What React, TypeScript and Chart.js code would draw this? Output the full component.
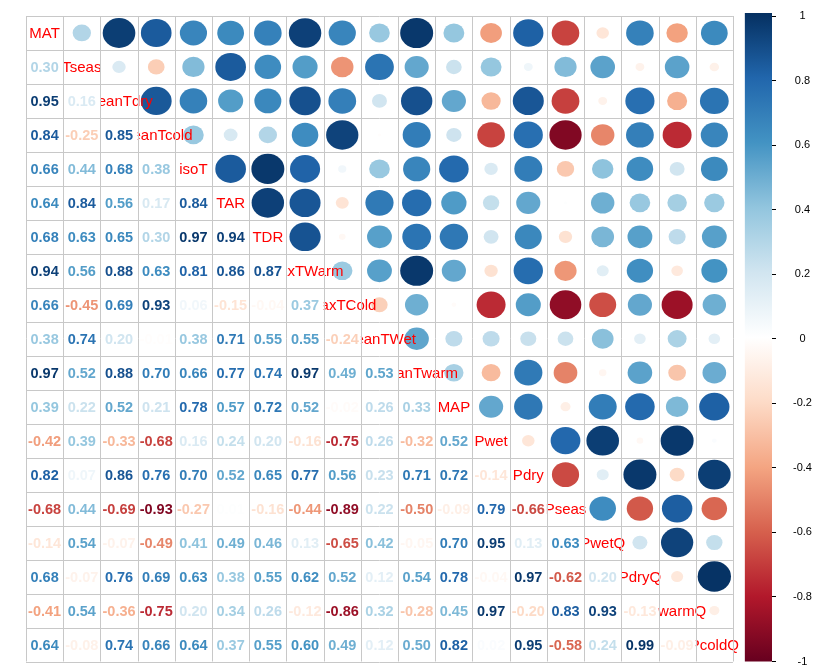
import { useEffect, useRef } from 'react';
import { Chart, registerables } from 'chart.js';

Chart.register(...registerables);

// Variable names (diagonal labels)
const variables = [
  'MAT', 'Tseas', 'MeanTdry', 'MeanTcold', 'isoT', 'TAR', 'TDR', 'MaxTWarm', 'MaxTCold',
  'MeanTWet', 'MeanTwarm', 'MAP', 'Pwet', 'Pdry', 'Pseas', 'PwetQ', 'PdryQ', 'PwarmQ', 'PcoldQ',
];

// Lower-triangle correlations, one row per variable (columns 0..row-1)
const corrMAT: number[] = [];
const corrTseas = [0.30];
const corrMeanTdry = [0.95, 0.16];
const corrMeanTcold = [0.84, -0.25, 0.85];
const corrIsoT = [0.66, 0.44, 0.68, 0.38];
const corrTAR = [0.64, 0.84, 0.56, 0.17, 0.84];
const corrTDR = [0.68, 0.63, 0.65, 0.30, 0.97, 0.94];
const corrMaxTWarm = [0.94, 0.56, 0.88, 0.63, 0.81, 0.86, 0.87];
const corrMaxTCold = [0.66, -0.45, 0.69, 0.93, 0.06, -0.15, -0.04, 0.37];
const corrMeanTWet = [0.38, 0.74, 0.20, -0.01, 0.38, 0.71, 0.55, 0.55, -0.24];
const corrMeanTwarm = [0.97, 0.52, 0.88, 0.70, 0.66, 0.77, 0.74, 0.97, 0.49, 0.53];
const corrMAP = [0.39, 0.22, 0.52, 0.21, 0.78, 0.57, 0.72, 0.52, -0.02, 0.26, 0.33];
const corrPwet = [-0.42, 0.39, -0.33, -0.68, 0.16, 0.24, 0.20, -0.16, -0.75, 0.26, -0.32, 0.52];
const corrPdry = [0.82, 0.07, 0.86, 0.76, 0.70, 0.52, 0.65, 0.77, 0.56, 0.23, 0.71, 0.72, -0.14];
const corrPseas = [-0.68, 0.44, -0.69, -0.93, -0.27, 0.01, -0.16, -0.44, -0.89, 0.22, -0.50, -0.09, 0.79, -0.66];
const corrPwetQ = [-0.14, 0.54, -0.07, -0.49, 0.41, 0.49, 0.46, 0.13, -0.65, 0.42, -0.05, 0.70, 0.95, 0.13, 0.63];
const corrPdryQ = [0.68, -0.07, 0.76, 0.69, 0.63, 0.38, 0.55, 0.62, 0.52, 0.12, 0.54, 0.78, -0.04, 0.97, -0.62, 0.20];
const corrPwarmQ = [-0.41, 0.54, -0.36, -0.75, 0.20, 0.34, 0.26, -0.12, -0.86, 0.32, -0.28, 0.45, 0.97, -0.20, 0.83, 0.93, -0.13];
const corrPcoldQ = [0.64, -0.08, 0.74, 0.66, 0.64, 0.37, 0.55, 0.60, 0.49, 0.12, 0.50, 0.82, 0.02, 0.95, -0.58, 0.24, 0.99, -0.09];

// Colour-bar tick values
const colorbarTicks = [1, 0.8, 0.6, 0.4, 0.2, 0, -0.2, -0.4, -0.6, -0.8, -1];

const lowerRows = [
  corrMAT, corrTseas, corrMeanTdry, corrMeanTcold, corrIsoT, corrTAR, corrTDR, corrMaxTWarm,
  corrMaxTCold, corrMeanTWet, corrMeanTwarm, corrMAP, corrPwet, corrPdry, corrPseas, corrPwetQ,
  corrPdryQ, corrPwarmQ, corrPcoldQ,
];

// RdBu diverging palette (from -1 to 1)
const paletteStops = [
  '#67001F', '#B2182B', '#D6604D', '#F4A582', '#FDDBC7', '#FFFFFF',
  '#D1E5F0', '#92C5DE', '#4393C3', '#2166AC', '#053061',
];

function hexToRgb(h: string): number[] {
  return [parseInt(h.slice(1, 3), 16), parseInt(h.slice(3, 5), 16), parseInt(h.slice(5, 7), 16)];
}

function colorFor(v: number): string {
  const n = paletteStops.length - 1;
  const t = Math.max(0, Math.min(1, (v + 1) / 2)) * n;
  const i = Math.min(n - 1, Math.floor(t));
  const f = t - i;
  const a = hexToRgb(paletteStops[i]);
  const b = hexToRgb(paletteStops[i + 1]);
  const c = a.map((x, k) => Math.round(x + (b[k] - x) * f));
  return `rgb(${c[0]},${c[1]},${c[2]})`;
}

function valueAt(i: number, j: number): number {
  if (i === j) return 1;
  return i > j ? lowerRows[i][j] : lowerRows[j][i];
}

const FONT = '"Liberation Sans", Arial, Helvetica, sans-serif';

const corrPlugin = {
  id: 'corrDraw',
  afterDatasetsDraw(chart: any) {
    const ctx: CanvasRenderingContext2D = chart.ctx;
    const xs = chart.scales.x;
    const ys = chart.scales.y;
    const cb = chart.scales.cb;
    const area = chart.chartArea;
    const meta = chart.getDatasetMeta(0);
    const data = chart.data.datasets[0].data as any[];
    const cw = Math.abs(xs.getPixelForValue(1) - xs.getPixelForValue(0));
    const ch = Math.abs(ys.getPixelForValue(1) - ys.getPixelForValue(0));
    const nVar = variables.length;

    ctx.save();

    // colour bar
    const cbLeft = xs.getPixelForValue(nVar - 0.5 + 0.32);
    const cbTop = cb.getPixelForValue(1) - 3;
    const cbBottom = cb.getPixelForValue(-1);
    const grad = ctx.createLinearGradient(0, cbTop, 0, cbBottom);
    paletteStops.slice().reverse().forEach((c, k) => grad.addColorStop(k / (paletteStops.length - 1), c));
    ctx.fillStyle = grad;
    ctx.fillRect(cbLeft, cbTop, area.right - cbLeft, cbBottom - cbTop);

    // upper triangle circles
    meta.data.forEach((el: any, k: number) => {
      const d = data[k];
      if (d.x <= d.y) return;
      const s = 0.45 * Math.sqrt(Math.abs(d.v));
      ctx.beginPath();
      ctx.ellipse(el.x, el.y, s * cw, s * ch, 0, 0, Math.PI * 2);
      ctx.fillStyle = colorFor(d.v);
      ctx.fill();
    });

    // diagonal labels
    ctx.font = `15px ${FONT}`;
    ctx.fillStyle = '#FF0000';
    ctx.textAlign = 'center';
    ctx.textBaseline = 'middle';
    meta.data.forEach((el: any, k: number) => {
      const d = data[k];
      if (d.x !== d.y) return;
      ctx.fillText(variables[d.x], el.x, el.y + 1);
    });

    // lower triangle numbers
    ctx.font = `bold 14.5px ${FONT}`;
    meta.data.forEach((el: any, k: number) => {
      const d = data[k];
      if (d.x >= d.y) return;
      ctx.fillStyle = '#FFFFFF';
      ctx.fillRect(el.x - cw / 2, el.y - ch / 2, cw, ch);
      ctx.fillStyle = colorFor(d.v);
      ctx.fillText(d.v.toFixed(2), el.x, el.y + 1);
    });

    // grid
    ctx.strokeStyle = '#C8C8C8';
    ctx.lineWidth = 1;
    ctx.beginPath();
    const x0 = xs.getPixelForValue(-0.5);
    const x1 = xs.getPixelForValue(nVar - 0.5);
    const y0 = ys.getPixelForValue(-0.5);
    const y1 = ys.getPixelForValue(nVar - 0.5);
    for (let i = 0; i <= nVar; i++) {
      const px = Math.round(xs.getPixelForValue(i - 0.5)) + 0.5;
      ctx.moveTo(px, y0);
      ctx.lineTo(px, y1);
      const py = Math.round(ys.getPixelForValue(i - 0.5)) + 0.5;
      ctx.moveTo(x0, py);
      ctx.lineTo(x1, py);
    }
    ctx.stroke();

    ctx.restore();
  },
};

export default function App() {
  const canvasRef = useRef<HTMLCanvasElement | null>(null);

  useEffect(() => {
    if (!canvasRef.current) return;
    const cells: { x: number; y: number; v: number }[] = [];
    for (let i = 0; i < variables.length; i++) {
      for (let j = 0; j < variables.length; j++) {
        cells.push({ x: j, y: i, v: valueAt(i, j) });
      }
    }
    const chart = new Chart(canvasRef.current, {
      type: 'scatter',
      data: {
        datasets: [
          {
            data: cells as any,
            pointRadius: 0,
            pointHoverRadius: 0,
          },
        ],
      },
      options: {
        responsive: false,
        animation: false,
        events: [],
        layout: { padding: { left: 26, top: 16, bottom: 8.5, right: 0 } },
        plugins: { legend: { display: false }, tooltip: { enabled: false } },
        scales: {
          x: { type: 'linear', min: -0.5, max: 19.55, display: false },
          y: { type: 'linear', min: -0.5, max: 18.5, reverse: true, display: false },
          cb: {
            type: 'linear',
            position: 'right',
            min: -1,
            max: 1,
            afterBuildTicks: (scale: any) => {
              scale.ticks = colorbarTicks.map((v) => ({ value: v }));
            },
            afterFit: (scale: any) => {
              scale.width = 42;
              scale.paddingTop = 0;
              scale.paddingBottom = 0;
            },
            border: { display: false },
            grid: { drawOnChartArea: false, drawTicks: true, tickLength: 4, color: '#000000', tickColor: '#000000' },
            ticks: {
              color: '#000000',
              padding: 17,
              crossAlign: 'center',
              font: { family: FONT, size: 11 },
              callback: (v: any) => String(Math.round(Number(v) * 10) / 10),
            },
          },
        },
      },
      plugins: [corrPlugin],
    });
    return () => chart.destroy();
  }, []);

  return (
    <div style={{ position: 'fixed', left: 0, top: 0, width: 814, height: 670, background: '#fff' }}>
      <canvas ref={canvasRef} width={814} height={670} style={{ width: 814, height: 670 }} />
    </div>
  );
}
